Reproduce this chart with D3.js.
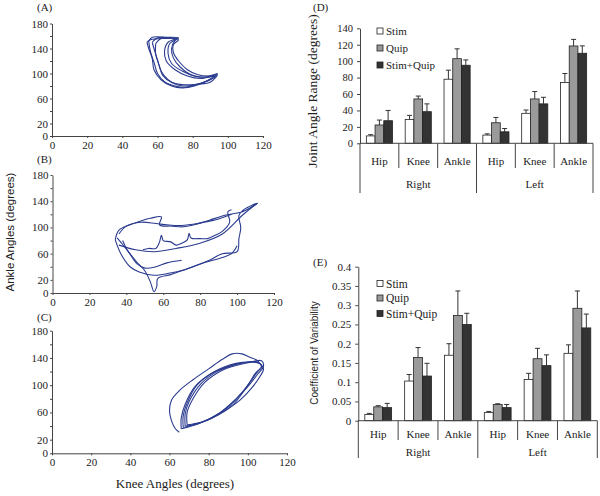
<!DOCTYPE html>
<html><head><meta charset="utf-8">
<script src="https://cdn.jsdelivr.net/npm/d3@7/dist/d3.min.js"></script>
<style>body{margin:0;background:#fff}svg{display:block}</style></head>
<body>
<svg id="c" width="600" height="496"></svg>
<script>
// ---------- data ----------
const kneeTicks = [0, 20, 40, 60, 80, 100, 120];
const ankleTicks = [0, 20, 40, 60, 80, 100, 120, 140, 160, 180];
const ankleTickLabels = ["0", "20", "", "60", "", "100", "", "140", "", "180"];

// Panel A: knee vs ankle angle traces [knee, ankle]
const traceA1 = [[55,152],[57,158],[65,158],[72,157],[70,153],[68,140],[69,125],[73,110],[79,98],[86,94],[92,98],[94,100],[92,94],[88,88],[82,82],[76,78],[70,80],[64,87],[60,100],[58,118],[56,135],[55,152]];
const traceA2 = [[57,150],[60,157],[68,157],[71,155],[67,148],[66,132],[68,116],[74,104],[81,96],[88,94],[93,96],[90,90],[84,84],[77,80],[71,82],[66,90],[62,104],[60,122],[58,140],[57,150]];
const traceA3 = [[59,148],[62,156],[70,156],[72,154],[69,146],[69,134],[72,120],[77,106],[83,98],[90,96],[94,98],[90,86],[83,83],[75,82],[68,86],[63,97],[61,113],[59,130],[59,148]];
const traceA4 = [[54,150],[56,154],[63,156],[70,155],[66,150],[64,136],[65,120],[70,106],[77,96],[85,92],[92,96],[88,88],[81,80],[74,77],[68,80],[62,90],[58,106],[57,124],[55,140],[54,150]];

// Panel B
const traceB1 = [[34,81],[36,96],[44,106],[53,114],[59,116],[58,104],[65,102],[71,101],[78,105],[85,111],[94,119],[103,124],[111,137],[104,128],[101,118],[102,100],[101,83],[100,63],[92,60],[85,50],[78,42],[71,35],[63,30],[55,27],[47,32],[42,40],[37,60],[34,81]];
const traceB2 = [[35,84],[38,74],[42,60],[46,46],[50,34],[53,17],[55,2],[56.5,10],[57,22],[64,28],[72,36],[82,46],[92,54],[97,60],[100,72]];
const traceB3 = [[36,73],[45,66],[55,63],[67,68],[80,76],[92,90],[103,119],[111,137]];
const traceB4 = [[49,66],[52,68],[56,68],[58,78],[59,88],[60,80],[64,78],[67,73],[70,76],[73,81],[74,91],[75,84],[80,83],[84,83],[88,88],[92,94],[96,108],[95,124],[97,127]];
const traceB5 = [[36,90],[40,102],[48,108],[56,106],[62,104],[70,103],[80,107],[90,113],[97,120]];
const traceB6 = [[38,80],[40,68],[43,55],[46,44],[50,38],[56,40],[62,46],[70,50]];

// Panel C
const traceC1 = [[67,38],[67,55],[69,74],[74,100],[83,120],[94,132],[102,134],[106,132],[107,126],[104,118],[100,100],[92,70],[82,52],[74,43],[67,38]];
const traceC2 = [[68,40],[68,58],[70,76],[76,102],[85,121],[96,132],[104,134],[107,128],[105,120],[101,104],[96,86],[90,68],[80,50],[72,42],[68,40]];
const traceC3 = [[69,42],[69,60],[72,80],[78,104],[87,122],[97,131],[105,134],[108,124],[106,112],[102,96],[96,78],[88,62],[79,48],[72,43],[69,42]];
const traceC4 = [[66,36],[66,52],[68,72],[73,98],[82,118],[93,130],[103,135],[107,136],[108,128],[105,116],[100,98],[94,80],[86,60],[77,46],[70,39],[66,36]];
const traceC5 = [[65,31],[63,36],[61,48],[60,62],[61,78],[65,92],[72,108],[80,124],[87,138],[92,146],[97,146],[101,141],[105,136],[106,132]];

// Panels D & E
const joints = ["Hip", "Knee", "Ankle", "Hip", "Knee", "Ankle"];
const sides = ["Right", "Left"];
const series = ["Stim", "Quip", "Stim+Quip"];

const rangeTicks = [0, 20, 40, 60, 80, 100, 120, 140];
const rangeStim = [9, 29, 78, 10, 36.5, 74];
const rangeStimErr = [1.5, 5, 11, 1.5, 4, 11];
const rangeQuip = [22.3, 54, 103, 25, 54, 118.5];
const rangeQuipErr = [6, 3.5, 12, 6.5, 9, 8];
const rangeBoth = [27.5, 38.5, 95, 14, 48, 109.6];
const rangeBothErr = [12.5, 9.5, 6.5, 4, 8, 9];

const cvTicks = [0, 0.05, 0.1, 0.15, 0.2, 0.25, 0.3, 0.35, 0.4];
const cvTickLabels = ["0", "0.05", "0.1", "0.15", "0.2", "0.25", "0.3", "0.35", "0.4"];
const cvStim = [0.016, 0.103, 0.17, 0.021, 0.107, 0.175];
const cvStimErr = [0.003, 0.017, 0.03, 0.003, 0.016, 0.022];
const cvQuip = [0.036, 0.164, 0.273, 0.042, 0.161, 0.292];
const cvQuipErr = [0.003, 0.026, 0.064, 0.002, 0.027, 0.045];
const cvBoth = [0.034, 0.116, 0.25, 0.034, 0.143, 0.241];
const cvBothErr = [0.011, 0.033, 0.029, 0.008, 0.028, 0.036];

// ---------- drawing ----------
const svg = d3.select("#c");
const SERIF = "'Liberation Serif', 'Times New Roman', serif";
const SANS = "'Liberation Sans', Arial, sans-serif";
const axisCol = "#444";
const lineCol = "#2a3b8f";

function loopPanel(o, traces, label) {
  const x = d3.scaleLinear().domain([0, 120]).range([o.x0, o.x1]);
  const y = d3.scaleLinear().domain([0, 180]).range([o.y0, o.y1]);
  const g = svg.append("g");
  const xa = g.append("g").attr("transform", `translate(0,${o.y0})`)
    .call(d3.axisBottom(x).tickValues(kneeTicks).tickSize(2).tickSizeOuter(0).tickPadding(3));
  const ya = g.append("g").attr("transform", `translate(${o.x0},0)`)
    .call(d3.axisLeft(y).tickValues(ankleTicks).tickSize(2).tickSizeOuter(0).tickPadding(2)
      .tickFormat((d, i) => ankleTickLabels[i]));
  [xa, ya].forEach(a => {
    a.selectAll("path,line").attr("stroke", axisCol);
    a.selectAll("text").attr("font-family", SERIF).attr("font-size", 11).attr("fill", "#222");
  });
  const line = d3.line().x(d => x(d[0])).y(d => y(d[1])).curve(d3.curveCatmullRom.alpha(0.5));
  traces.forEach(t => {
    g.append("path").attr("d", line(t)).attr("fill", "none")
      .attr("stroke", lineCol).attr("stroke-width", 1.1).attr("stroke-linejoin", "round");
  });
  svg.append("text").attr("x", 37).attr("y", o.labelY).attr("font-family", SERIF)
    .attr("font-size", 11).attr("fill", "#222").text(label);
}

loopPanel({x0: 52, x1: 263, y0: 136, y1: 23.5, labelY: 11}, [traceA1, traceA2, traceA3, traceA4], "(A)");
loopPanel({x0: 52.5, x1: 274, y0: 293, y1: 175, labelY: 163}, [traceB1, traceB2, traceB3, traceB4, traceB5, traceB6], "(B)");
loopPanel({x0: 52, x1: 287, y0: 453.3, y1: 330.7, labelY: 321}, [traceC1, traceC2, traceC3, traceC4, traceC5], "(C)");

svg.append("text").attr("transform", "translate(14,232) rotate(-90)")
  .attr("text-anchor", "middle").attr("font-family", SANS).attr("font-size", 11.5)
  .attr("fill", "#222").text("Ankle Angles (degrees)");
svg.append("text").attr("x", 175).attr("y", 488).attr("text-anchor", "middle")
  .attr("font-family", SERIF).attr("font-size", 13).attr("fill", "#222").text("Knee Angles (degrees)");

const fills = ["#ffffff", "#9a9a9a", "#333333"];

function barPanel(o, vals, errs, ticks, tickLabels) {
  const y = d3.scaleLinear().domain(o.domain).range([o.y0, o.y1]);
  const cats = d3.range(joints.length);
  const xb = d3.scaleBand().domain(cats).range([o.x0, o.x1]).padding(0);
  const xs = d3.scaleBand().domain(series).range([0, xb.bandwidth()]).paddingInner(0).paddingOuter(0.73);
  const g = svg.append("g");
  const ya = g.append("g").attr("transform", `translate(${o.x0},0)`)
    .call(d3.axisLeft(y).tickValues(ticks).tickSize(3).tickSizeOuter(0).tickPadding(4)
      .tickFormat((d, i) => tickLabels[i]));
  ya.selectAll("path,line").attr("stroke", axisCol);
  ya.selectAll("text").attr("font-family", SERIF).attr("font-size", o.tickFs).attr("fill", "#222");

  series.forEach((s, si) => {
    const data = cats.map(c => ({c, v: vals[si][c], e: errs[si][c]}));
    data.forEach(d => {
      const cx = xb(d.c) + xs(s) + xs.bandwidth() / 2;
      g.append("line").attr("x1", cx).attr("x2", cx).attr("y1", y(d.v)).attr("y2", y(d.v + d.e))
        .attr("stroke", "#333").attr("stroke-width", 1);
      g.append("line").attr("x1", cx - 2.5).attr("x2", cx + 2.5).attr("y1", y(d.v + d.e)).attr("y2", y(d.v + d.e))
        .attr("stroke", "#333").attr("stroke-width", 1);
    });
    g.selectAll(null).data(data).enter().append("rect")
      .attr("x", d => xb(d.c) + xs(s)).attr("width", xs.bandwidth())
      .attr("y", d => y(d.v)).attr("height", d => y(0) - y(d.v))
      .attr("fill", fills[si]).attr("stroke", "#222").attr("stroke-width", 0.8);
  });
  g.append("line").attr("x1", o.x0).attr("x2", o.x1).attr("y1", o.y0).attr("y2", o.y0)
    .attr("stroke", axisCol);
  d3.range(joints.length + 1).forEach(i => {
    const xx = i < joints.length ? xb(i) : o.x1;
    const long = i % 3 === 0;
    g.append("line").attr("x1", xx).attr("x2", xx).attr("y1", o.y0)
      .attr("y2", long ? o.longY : o.shortY).attr("stroke", axisCol).attr("stroke-width", 1);
  });
  cats.forEach(c => {
    g.append("text").attr("x", xb(c) + xb.bandwidth() / 2).attr("y", o.catY)
      .attr("text-anchor", "middle").attr("font-family", SERIF).attr("font-size", 11)
      .attr("fill", "#222").text(joints[c]);
  });
  sides.forEach((s, i) => {
    const a = xb(i * 3), b = i === 0 ? xb(3) : o.x1;
    g.append("text").attr("x", (a + b) / 2).attr("y", o.sideY).attr("text-anchor", "middle")
      .attr("font-family", SERIF).attr("font-size", 11).attr("fill", "#222").text(s);
  });
  series.forEach((s, si) => {
    const ly = o.legY[si];
    g.append("rect").attr("x", 377).attr("y", ly - 3).attr("width", 6).attr("height", 6)
      .attr("fill", fills[si]).attr("stroke", "#222").attr("stroke-width", 0.8);
    g.append("text").attr("x", 386).attr("y", ly).attr("dy", "0.35em")
      .attr("font-family", SERIF).attr("font-size", o.legFs).attr("fill", "#222").text(s);
  });
  svg.append("text").attr("transform", `translate(${o.titleX},${o.titleY}) rotate(-90)`)
    .attr("text-anchor", "middle").attr("font-family", o.titleFont).attr("font-size", o.titleFs)
    .attr("fill", "#222").text(o.title);
  svg.append("text").attr("x", 313).attr("y", o.labelY).attr("font-family", SERIF)
    .attr("font-size", 11).attr("fill", "#222").text(o.label);
}

barPanel({domain: [0, 140], x0: 360, x1: 593, y0: 143.3, y1: 28.3, shortY: 168, longY: 193,
  catY: 165, sideY: 188, legY: [31, 48, 65], legFs: 11, tickFs: 10.5,
  title: "Joint Angle Range (degrees)", titleX: 317, titleY: 91, titleFont: SERIF, titleFs: 13.5,
  label: "(D)", labelY: 11},
  [rangeStim, rangeQuip, rangeBoth], [rangeStimErr, rangeQuipErr, rangeBothErr], rangeTicks, rangeTicks.map(String));

barPanel({domain: [0, 0.4], x0: 358.3, x1: 597.3, y0: 420.7, y1: 266.7, shortY: 440, longY: 458,
  catY: 438, sideY: 456, legY: [283.5, 298, 313.5], legFs: 11.5, tickFs: 11,
  title: "Coefficient of Variability", titleX: 318, titleY: 353, titleFont: SANS, titleFs: 10,
  label: "(E)", labelY: 266},
  [cvStim, cvQuip, cvBoth], [cvStimErr, cvQuipErr, cvBothErr], cvTicks, cvTickLabels);
</script>
</body></html>
